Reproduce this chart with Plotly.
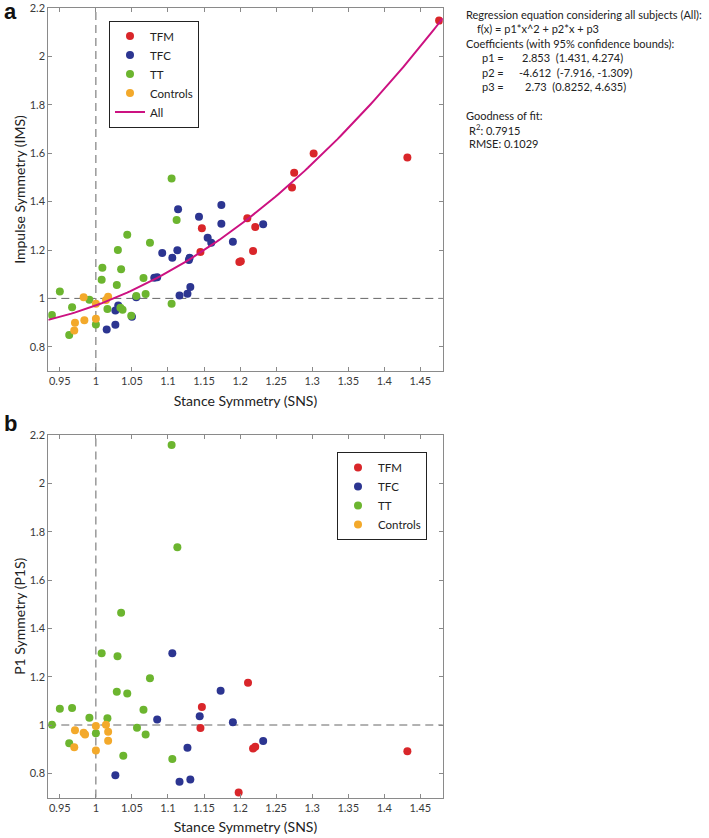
import plotly.graph_objects as go

# ---------------- data: panel a (Impulse Symmetry vs Stance Symmetry) ----------------
tfm_sns_a = [1.147, 1.145, 1.210, 1.221, 1.218, 1.199, 1.201, 1.272, 1.275, 1.302, 1.432, 1.476]
tfm_ims_a = [1.290, 1.192, 1.331, 1.295, 1.196, 1.150, 1.153, 1.458, 1.519, 1.599, 1.582, 2.148]

tfc_sns_a = [1.174, 1.114, 1.143, 1.174, 1.155, 1.160, 1.190, 1.092, 1.113, 1.106, 1.130, 1.129,
             1.085, 1.081, 1.131, 1.116, 1.127, 1.031, 1.027, 1.056, 1.050, 1.027, 1.015, 1.232]
tfc_ims_a = [1.386, 1.368, 1.337, 1.308, 1.251, 1.230, 1.234, 1.188, 1.199, 1.168, 1.168, 1.159,
             1.087, 1.085, 1.047, 1.012, 1.019, 0.971, 0.950, 1.005, 0.924, 0.891, 0.872, 1.306]

tt_sns_a = [1.105, 1.112, 1.0435, 1.0305, 1.075, 1.009, 1.035, 1.008, 1.066, 1.029, 1.069, 0.950,
            0.991, 0.967, 1.056, 1.105, 1.016, 1.034, 1.037, 1.049, 0.939, 1.000, 0.963]
tt_ims_a = [1.495, 1.324, 1.263, 1.200, 1.230, 1.127, 1.120, 1.077, 1.084, 1.055, 1.018, 1.029,
            0.994, 0.963, 1.010, 0.978, 0.956, 0.961, 0.953, 0.928, 0.931, 0.892, 0.849]

ctl_sns_a = [0.983, 1.017, 1.014, 1.000, 1.000, 0.971, 0.984, 0.970]
ctl_ims_a = [1.005, 1.007, 0.993, 0.978, 0.916, 0.899, 0.910, 0.867]

# regression coefficients shown on the chart: f(x) = p1*x^2 + p2*x + p3
p1, p2, p3 = 2.853, -4.612, 2.73
fit_x = [0.934 + i * (1.481 - 0.934) / 120 for i in range(121)]

# ---------------- data: panel b (P1 Symmetry vs Stance Symmetry) ----------------
tfm_sns_b = [1.147, 1.145, 1.198, 1.211, 1.218, 1.221, 1.432]
tfm_p1s_b = [1.075, 0.988, 0.721, 1.175, 0.903, 0.910, 0.891]

tfc_sns_b = [1.106, 1.173, 1.144, 1.085, 1.190, 1.127, 1.027, 1.116, 1.131, 1.232]
tfc_p1s_b = [1.297, 1.142, 1.036, 1.023, 1.011, 0.906, 0.792, 0.765, 0.774, 0.934]

tt_sns_b = [1.105, 1.113, 1.035, 1.008, 1.030, 1.075, 1.029, 1.0435, 0.950, 0.967, 1.066, 0.991,
            1.016, 0.939, 1.057, 1.000, 1.069, 0.963, 1.038, 1.106]
tt_p1s_b = [2.159, 1.736, 1.464, 1.297, 1.284, 1.193, 1.138, 1.130, 1.067, 1.070, 1.063, 1.030,
            1.028, 1.001, 0.989, 0.966, 0.961, 0.924, 0.873, 0.859]

ctl_sns_b = [1.000, 1.014, 0.971, 0.983, 0.985, 1.017, 1.017, 0.970, 1.000]
ctl_p1s_b = [0.996, 1.001, 0.978, 0.968, 0.961, 0.972, 0.935, 0.908, 0.895]

x_ticks = [0.95, 1, 1.05, 1.1, 1.15, 1.2, 1.25, 1.3, 1.35, 1.4, 1.45]
x_ticktext = ["0.95", "1", "1.05", "1.1", "1.15", "1.2", "1.25", "1.3", "1.35", "1.4", "1.45"]
y_ticks = [0.8, 1, 1.2, 1.4, 1.6, 1.8, 2, 2.2]
y_ticktext = ["0.8", "1", "1.2", "1.4", "1.6", "1.8", "2", "2.2"]

# ---------------- styling ----------------
C_TFM = "#d9262a"
C_TFC = "#2c3591"
C_TT = "#6cb52f"
C_CTL = "#f3a92b"
C_FIT = "#cc1281"
FONT = "Lato"

FW, FH = 709, 838


def fx(px):
    return px / FW


def fy(py):
    return 1 - py / FH


fig = go.Figure()


def scat(x, y, name, color, xa, ya, legend, show=True):
    fig.add_trace(go.Scatter(
        x=x, y=y, mode="markers", name=name,
        marker=dict(color=color, size=8, line=dict(width=0)),
        xaxis=xa, yaxis=ya, legend=legend, showlegend=show, hoverinfo="skip"))


scat(tfm_sns_a, tfm_ims_a, "TFM", C_TFM, "x", "y", "legend")
scat(tfc_sns_a, tfc_ims_a, "TFC", C_TFC, "x", "y", "legend")
scat(tt_sns_a, tt_ims_a, "TT", C_TT, "x", "y", "legend")
scat(ctl_sns_a, ctl_ims_a, "Controls", C_CTL, "x", "y", "legend")
fig.add_trace(go.Scatter(
    x=fit_x, y=[p1 * v * v + p2 * v + p3 for v in fit_x], mode="lines", name="All",
    line=dict(color=C_FIT, width=2), xaxis="x", yaxis="y", legend="legend", hoverinfo="skip"))

scat(tfm_sns_b, tfm_p1s_b, "TFM", C_TFM, "x2", "y2", "legend2")
scat(tfc_sns_b, tfc_p1s_b, "TFC", C_TFC, "x2", "y2", "legend2")
scat(tt_sns_b, tt_p1s_b, "TT", C_TT, "x2", "y2", "legend2")
scat(ctl_sns_b, ctl_p1s_b, "Controls", C_CTL, "x2", "y2", "legend2")

# pixel geometry (window pixels)
px_left, px_right = 48.3, 442.7
a_top, a_bot = 8.0, 371.0
b_top, b_bot = 435.0, 797.5
xdom = [fx(px_left), fx(px_right)]

axis_common = dict(
    showgrid=False, zeroline=False, showline=True, linecolor="#8a8a8a", linewidth=1,
    mirror="ticks", ticks="inside", ticklen=4, tickcolor="#8a8a8a", automargin=False,
    tickfont=dict(family=FONT, size=11, color="#3a3a3a"),
)
title_font = dict(family=FONT, size=14, color="#222")
xrange = [0.934, 1.481]
yrange = [0.7, 2.2]

fig.update_layout(
    width=FW, height=FH, margin=dict(l=0, r=0, t=0, b=0, autoexpand=False),
    paper_bgcolor="white", plot_bgcolor="white", hovermode=False,
    font=dict(family=FONT, color="#222"),
    xaxis=dict(domain=xdom, range=xrange, tickvals=x_ticks, ticktext=x_ticktext, anchor="y",
               title=dict(text="Stance Symmetry (SNS)", font=title_font, standoff=9),
               **axis_common),
    yaxis=dict(domain=[fy(a_bot), fy(a_top)], range=yrange, tickvals=y_ticks, ticktext=y_ticktext,
               anchor="x",
               title=dict(text="Impulse Symmetry (IMS)", font=title_font, standoff=0),
               **axis_common),
    xaxis2=dict(domain=xdom, range=xrange, tickvals=x_ticks, ticktext=x_ticktext, anchor="y2",
                title=dict(text="Stance Symmetry (SNS)", font=title_font, standoff=9),
                **axis_common),
    yaxis2=dict(domain=[fy(b_bot), fy(b_top)], range=yrange, tickvals=y_ticks, ticktext=y_ticktext,
                anchor="x2",
                title=dict(text="P1 Symmetry (P1S)", font=title_font, standoff=0),
                **axis_common),
    legend=dict(x=fx(109), y=fy(20.5), xanchor="left", yanchor="top",
                bordercolor="#222", borderwidth=1, bgcolor="white",
                font=dict(family=FONT, size=11.5, color="#222"), itemwidth=30, tracegroupgap=0),
    legend2=dict(x=fx(337), y=fy(452), xanchor="left", yanchor="top",
                 bordercolor="#222", borderwidth=1, bgcolor="white",
                 font=dict(family=FONT, size=11.5, color="#222"), itemwidth=30, tracegroupgap=0),
)

# dashed reference lines at 1
dash_style = dict(color="#666", width=1, dash="8px,5px")
for xa, ya in (("x", "y"), ("x2", "y2")):
    fig.add_shape(type="line", xref=xa, yref=ya + " domain", x0=1, x1=1, y0=0, y1=1,
                  line=dash_style, layer="below")
    fig.add_shape(type="line", xref=xa + " domain", yref=ya, x0=0, x1=1, y0=1, y1=1,
                  line=dash_style, layer="below")

# panel letters
for letter, ypx in (("a", 12), ("b", 424)):
    fig.add_annotation(text="<b>" + letter + "</b>", xref="paper", yref="paper",
                       x=fx(2), y=fy(ypx), xanchor="left", yanchor="middle", showarrow=False,
                       font=dict(family="Liberation Sans", size=22, color="#111"))

# regression text block
txt_font = dict(family=FONT, size=11, color="#222")
lines = [
    ("Regression equation considering all subjects (All):", 464, 15),
    ("f(x) = p1*x^2 + p2*x + p3", 475, 29),
    ("Coefficients (with 95% confidence bounds):", 464, 43),
    ("p1 =", 480, 58),
    ("p2 =", 480, 72),
    ("p3 =", 480, 87),
    ("2.853  (1.431, 4.274)", 520, 58),
    ("-4.612  (-7.916, -1.309)", 517, 72),
    ("2.73  (0.8252, 4.635)", 523, 87),
    ("Goodness of fit:", 464, 115),
    ("R<sup>2</sup>: 0.7915", 467, 129),
    ("RMSE: 0.1029", 467, 143),
]
for t, xp, yp in lines:
    fig.add_annotation(text=t, xref="paper", yref="paper", x=fx(xp), y=fy(yp),
                       xanchor="left", yanchor="middle", showarrow=False, font=txt_font)

# remove the default page margin so the figure sits at the window's top-left corner
fig.write_html("out.html", config={"displayModeBar": False},
               post_script="document.body.style.margin='0px';")
